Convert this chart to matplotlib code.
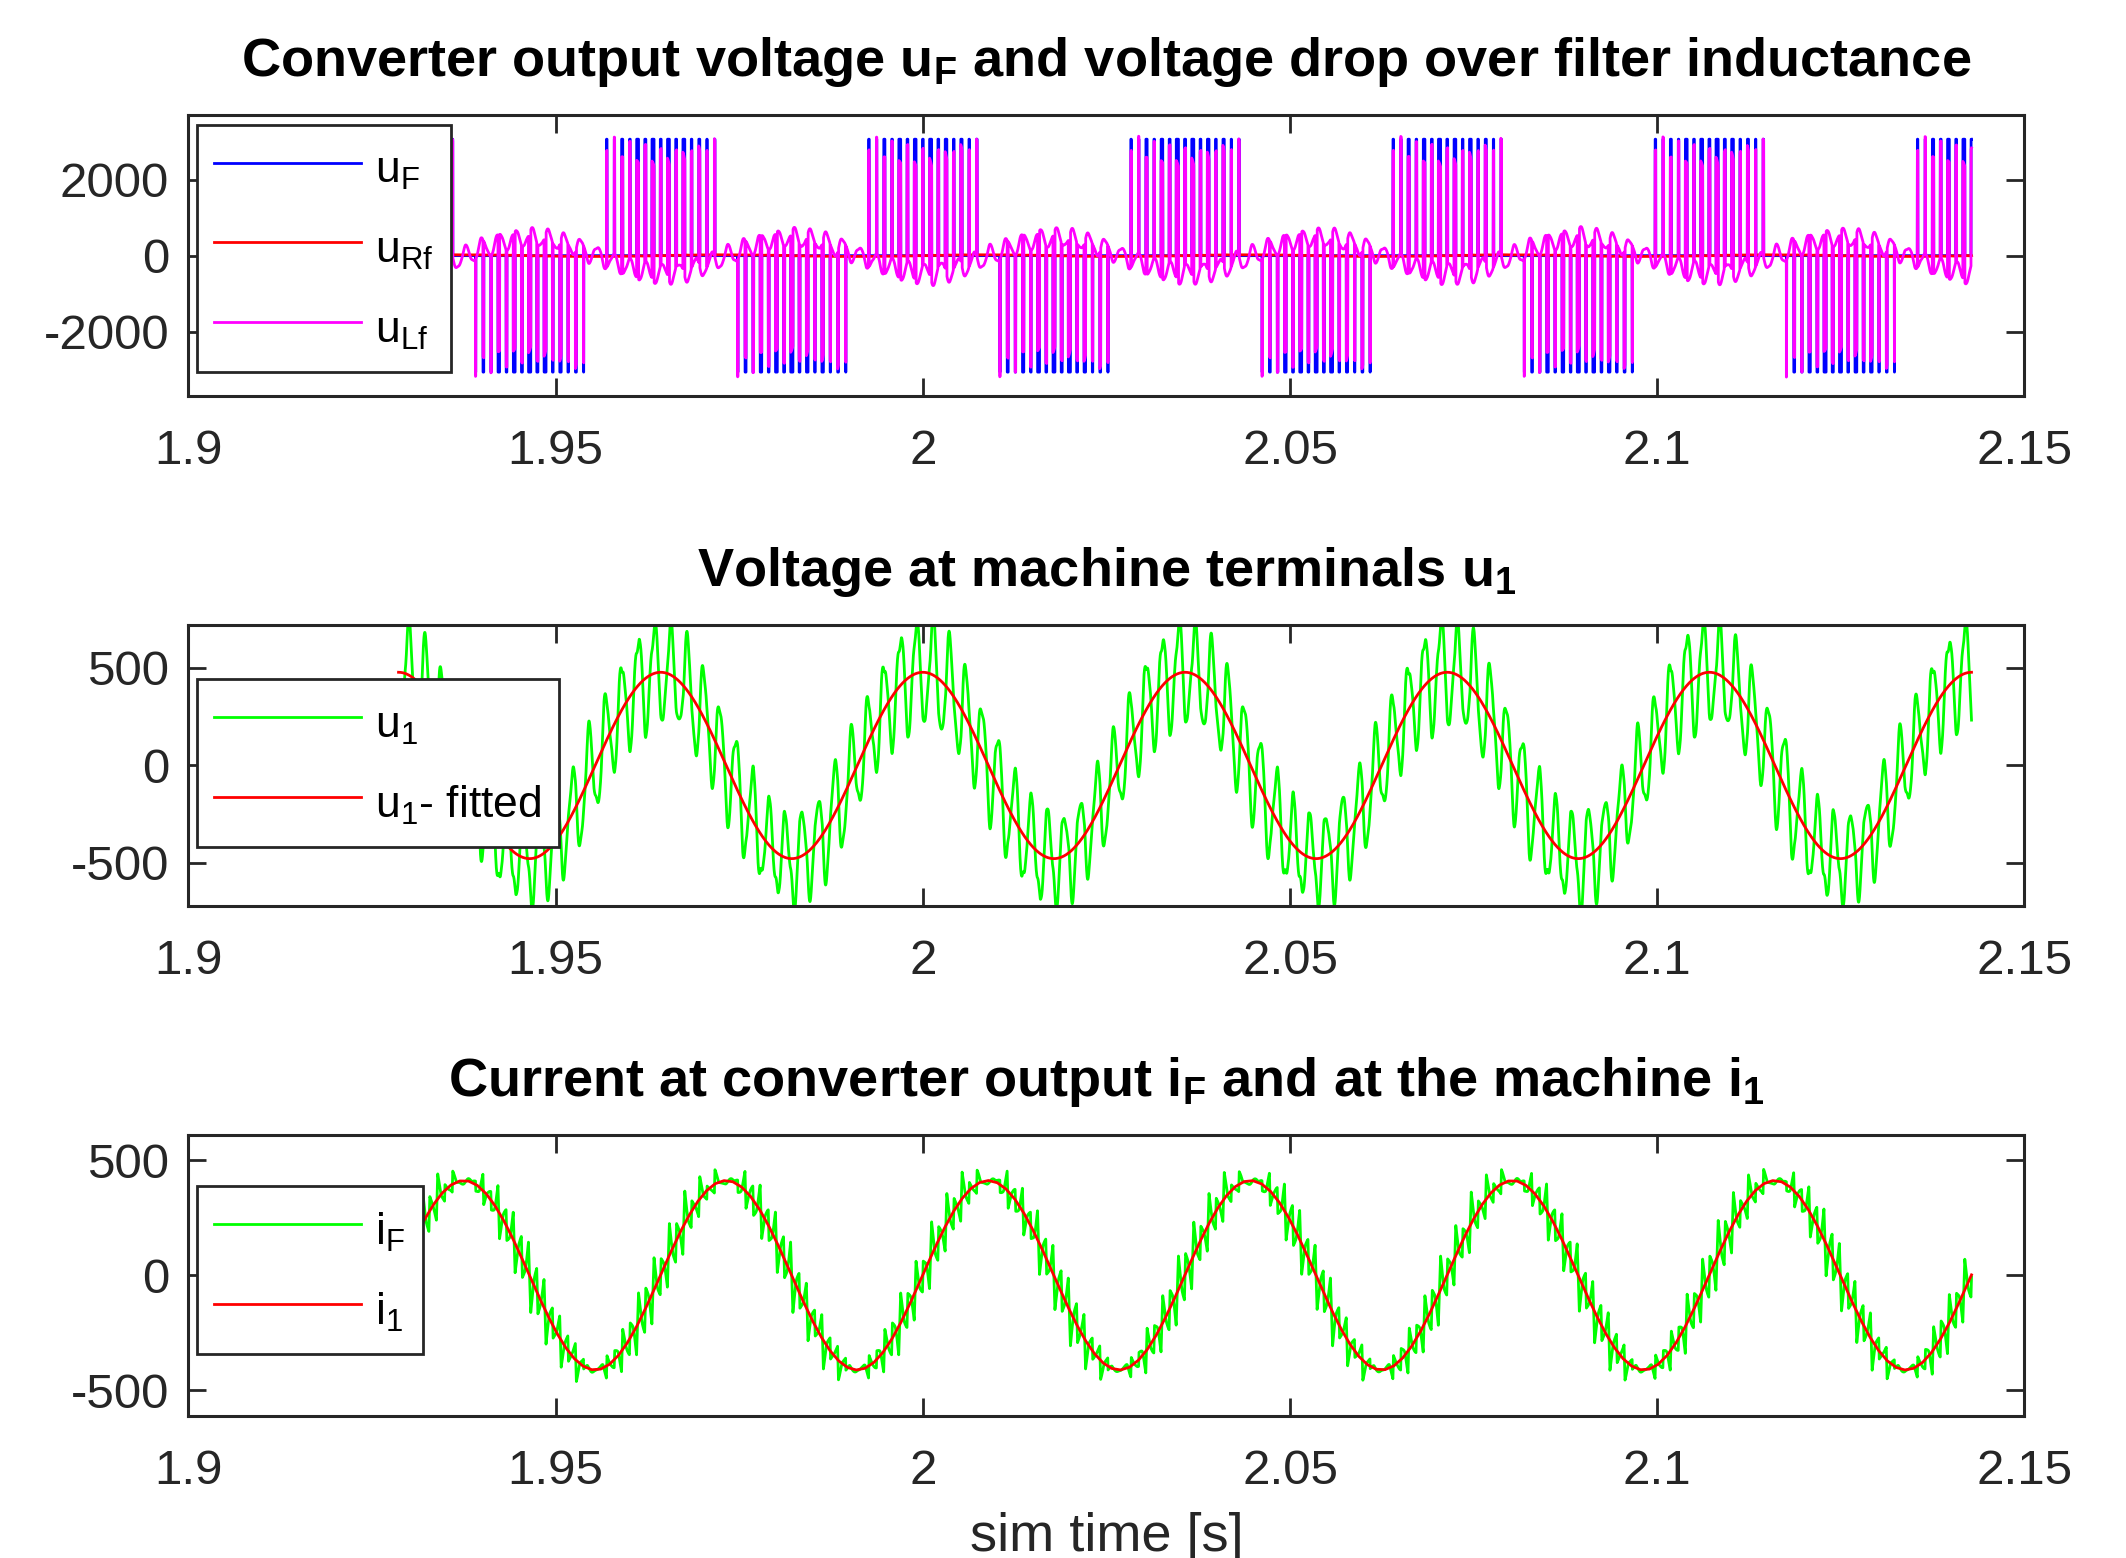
import numpy as np
import matplotlib
matplotlib.use('Agg')
import matplotlib.pyplot as plt

# Values
t_span = [1.9286, 2.1428]            # first / last sample [s]
u1_fit = [478.0, 0.0357, 2.000]      # amplitude [V], period [s], time of a peak [s]
i1_fit = [412.0, 0.0357, 2.0089]     # amplitude [A], period [s], time of a peak [s]
i1_step = 1.2e-3                     # sample step of the i1 trace [s]
uF_level = 3070.0                    # converter dc level [V]
pulses_per_period = 34
duty_scale = 0.2                     # pulse width at the sine peak / switching period
duty_drop = 0.15                     # pulses dropped below this |ref|
width_pattern = [0.5, 1.4, 0.6, 1.3, 0.7, 1.5, 0.8, 1.4, 0.6, 1.3, 0.7, 1.5, 0.6, 1.2]
ring = [490.0, 0.09]                 # resonance [Hz], damping of the u1 ripple
u1_ripple_peak = 320.0               # [V]
iF_ripple_peak = 150.0               # [A]
R_f = 0.05                           # filter resistance [Ohm]

xticks = [1.9, 1.95, 2.0, 2.05, 2.1, 2.15]
xtick_labels = ['1.9', '1.95', '2', '2.05', '2.1', '2.15']

plt.rcParams['font.family'] = ['Liberation Sans', 'DejaVu Sans']
plt.rcParams['mathtext.fontset'] = 'custom'
plt.rcParams['mathtext.rm'] = 'Liberation Sans'
plt.rcParams['mathtext.default'] = 'regular'
plt.rcParams['axes.unicode_minus'] = False

# Signals (with some lead-in so the filters have settled)
dt = 2e-6
t = np.arange(t_span[0] - 0.03, t_span[1] + 0.003, dt)
T1 = u1_fit[1]
Ts = T1 / pulses_per_period
wp = np.array(width_pattern)

def pwm(shift):
	t0 = u1_fit[2] + shift
	k = np.round((t - t0) / Ts).astype(int)
	tc = t0 + k * Ts
	ref = np.cos(2 * np.pi * (tc - t0) / T1)
	w = duty_scale * np.abs(ref) * Ts * wp[k % len(wp)]
	on = (np.abs(t - tc) < w / 2) & (np.abs(ref) > duty_drop)
	return np.sign(ref) * uF_level * on

uF = pwm(0.0)
uB = pwm(T1 / 3)
uC = pwm(-T1 / 3)

n = int(round(Ts / dt))
def movavg(x, m):
	return np.convolve(x, np.ones(m) / m, mode='same')

drive = uF - (uF + uB + uC) / 3
e = drive - movavg(drive, 4 * n)
w0 = 2 * np.pi * ring[0]
x = 0.0
v = 0.0
xs = np.zeros_like(t)
for j in range(len(t)):
	a = w0 * w0 * (e[j] - x) - 2 * ring[1] * w0 * v
	v += a * dt
	x += v * dt
	xs[j] = x

u1_smooth = u1_fit[0] * np.cos(2 * np.pi * (t - u1_fit[2]) / T1)
keep = (t >= t_span[0]) & (t <= t_span[1])
ripple_u = xs - movavg(xs, 4 * n)
ripple_u = ripple_u / np.max(np.abs(ripple_u[keep])) * u1_ripple_peak
u1 = u1_smooth + ripple_u

ts_i = i1_fit[2] + np.arange(-200, 200) * i1_step
vs_i = i1_fit[0] * np.cos(2 * np.pi * (ts_i - i1_fit[2]) / i1_fit[1])
i1 = np.interp(t, ts_i, vs_i)

c = np.cumsum(uF - u1) * dt
r = c - movavg(c, n)
iF = i1 + r / np.max(np.abs(r[keep])) * iF_ripple_peak

uRf = R_f * iF
uLf = uF - u1 - uRf

t = t[keep]
uF, uRf, uLf = uF[keep], uRf[keep], uLf[keep]
u1, u1_smooth, iF, i1 = u1[keep], u1_smooth[keep], iF[keep], i1[keep]

# Figure
fig = plt.figure(figsize=(21.26, 15.58), dpi=100)
left, width, height = 0.08866, 0.86355, 0.18017
ax1 = fig.add_axes([left, 0.74583, width, height])
ax2 = fig.add_axes([left, 0.41861, width, height])
ax3 = fig.add_axes([left, 0.0914, width, height])

lw = 2.0
ax1.plot(t, uF, color='#0000ff', lw=lw, label='u$_F$')
ax1.plot(t, uRf, color='#ff0000', lw=lw, label='u$_{Rf}$')
ax1.plot(t, uLf, color='#ff00ff', lw=lw, label='u$_{Lf}$')
ax2.plot(t, u1, color='#00ff00', lw=lw, label='u$_1$')
ax2.plot(t, u1_smooth, color='#ff0000', lw=lw, label='u$_1$- fitted')
ax3.plot(t, iF, color='#00ff00', lw=lw, label='i$_F$')
ax3.plot(t, i1, color='#ff0000', lw=lw, label='i$_1$')

def style(ax, yt, lim, title, leg_y):
	ax.set_xlim(1.9, 2.15)
	ax.set_ylim(lim)
	ax.set_xticks(xticks)
	ax.set_xticklabels(xtick_labels)
	ax.set_yticks(yt)
	ax.tick_params(direction='in', length=13, width=2, top=True, right=True,
		labelsize=35.5, colors='#262626')
	ax.tick_params(axis='x', pad=24)
	ax.tick_params(axis='y', pad=14)
	for s in ax.spines.values():
		s.set_linewidth(2.2)
		s.set_color('#262626')
	ax.set_title(title, fontsize=39, fontweight='bold', pad=28)
	leg = ax.legend(loc='upper left', bbox_to_anchor=(0.0044, leg_y), borderaxespad=0,
		fontsize=32, handlelength=3.3, handletextpad=0.33, labelspacing=0.61,
		handleheight=1.45, borderpad=0.39, fancybox=False, framealpha=1,
		edgecolor='#262626')
	leg.get_frame().set_linewidth(2)

style(ax1, [-2000, 0, 2000], (-3700, 3700),
	'Converter output voltage u$_F$ and voltage drop over filter inductance', 0.9665)
style(ax2, [-500, 0, 500], (-720, 720), 'Voltage at machine terminals u$_1$', 0.807)
style(ax3, [-500, 0, 500], (-610, 610),
	'Current at converter output i$_F$ and at the machine i$_1$', 0.8165)
ax3.set_xlabel('sim time [s]', fontsize=39, labelpad=13, color='#262626')

fig.savefig('out.png', dpi=100)
